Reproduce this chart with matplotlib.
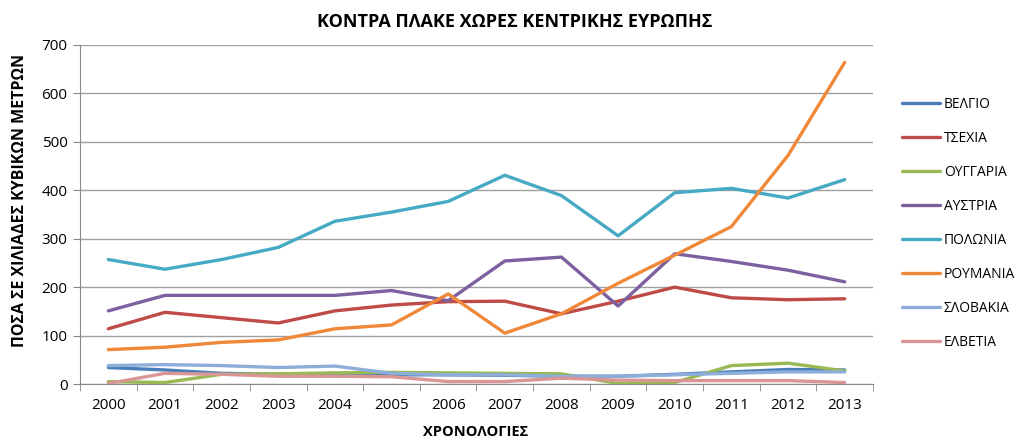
import matplotlib
matplotlib.use("Agg")
import matplotlib.pyplot as plt
import numpy as np

plt.rcParams['font.family'] = ['Open Sans', 'DejaVu Sans']

years = ['2000', '2001', '2002', '2003', '2004', '2005', '2006',
         '2007', '2008', '2009', '2010', '2011', '2012', '2013']

belgio   = [34, 29, 22, 20, 21, 19, 19, 18, 16, 16, 20, 25, 30, 29]
tsechia  = [114, 148, 137, 126, 151, 163, 170, 171, 145, 171, 200, 178, 174, 176]
ouggaria = [5, 3, 20, 21, 23, 24, 23, 22, 21, 1, 3, 38, 43, 27]
austria  = [151, 183, 183, 183, 183, 193, 172, 254, 262, 161, 269, 253, 235, 211]
polonia  = [257, 237, 257, 282, 336, 355, 377, 431, 389, 306, 395, 404, 384, 422]
roumania = [71, 76, 86, 91, 114, 122, 186, 105, 145, 208, 266, 325, 472, 664]
slovakia = [38, 40, 38, 34, 37, 22, 19, 19, 16, 16, 19, 22, 25, 25]
elvetia  = [1, 22, 20, 16, 16, 15, 5, 5, 12, 8, 7, 7, 7, 3]

series = [
    ('ΒΕΛΓΙΟ', belgio, '#4A7EBB'),
    ('ΤΣΕΧΙΑ', tsechia, '#BE4B48'),
    ('ΟΥΓΓΑΡΙΑ', ouggaria, '#98B954'),
    ('ΑΥΣΤΡΙΑ', austria, '#7D60A0'),
    ('ΠΟΛΩΝΙΑ', polonia, '#46AAC5'),
    ('ΡΟΥΜΑΝΙΑ', roumania, '#F0883A'),
    ('ΣΛΟΒΑΚΙΑ', slovakia, '#8EAEDA'),
    ('ΕΛΒΕΤΙΑ', elvetia, '#D99694'),
]

fig = plt.figure(figsize=(10.29, 4.41), dpi=100)
ax = fig.add_axes([80/1029, 57/441, (873-80)/1029, (384-45)/441])

x = np.arange(len(years))
for name, vals, col in series:
    ax.plot(x, vals, color=col, lw=2.4, label=name, solid_capstyle='round',
            solid_joinstyle='round')

ax.set_xlim(-0.5, len(years) - 0.5)
ax.set_ylim(0, 700)
ax.set_yticks(range(0, 701, 100))
ax.set_xticks(x)
ax.set_xticklabels(years)
ax.set_xticks(np.arange(-0.5, len(years), 1), minor=True)
ax.tick_params(axis='x', which='major', length=0, pad=10, labelsize=11)
ax.tick_params(axis='x', which='minor', length=5, color='#888888', direction='out')
ax.tick_params(axis='y', length=5, color='#888888', labelsize=11, pad=4)

ax.grid(axis='y', color='#A0A0A0', lw=1)
ax.set_axisbelow(True)
for s in ['top', 'right']:
    ax.spines[s].set_visible(False)
for s in ['left', 'bottom']:
    ax.spines[s].set_color('#888888')

fig.text(515/1029, 1 - 22/441, 'ΚΟΝΤΡΑ ΠΛΑΚΕ ΧΩΡΕΣ ΚΕΝΤΡΙΚΗΣ ΕΥΡΩΠΗΣ',
         ha='center', va='center', fontsize=13, fontweight='bold')
fig.text(20/1029, 1 - 200/441, 'ΠΟΣΑ ΣΕ ΧΙΛΙΑΔΕΣ ΚΥΒΙΚΩΝ ΜΕΤΡΩΝ',
         ha='center', va='center', rotation=90, fontsize=11.5, fontweight='bold')
fig.text(476/1029, 1 - 432/441, 'ΧΡΟΝΟΛΟΓΙΕΣ', ha='center', va='center',
         fontsize=10.5, fontweight='bold')

leg = fig.legend(loc='upper left', bbox_to_anchor=(889/1029, 1 - 84/441),
                 frameon=False, fontsize=10, handlelength=2.75,
                 handletextpad=0.3, labelspacing=1.37)

fig.savefig('out.png', dpi=100)
